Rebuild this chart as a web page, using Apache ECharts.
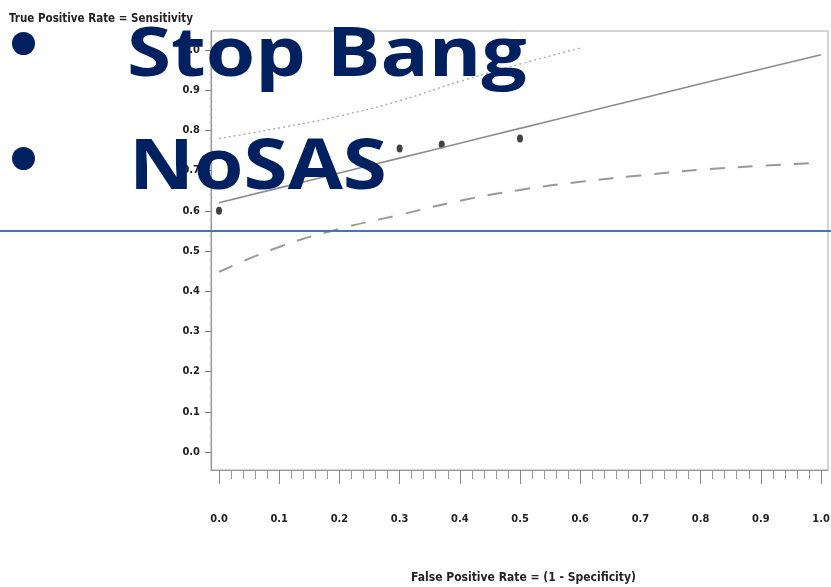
<!DOCTYPE html>
<html>
<head>
<meta charset="utf-8">
<script src="https://cdn.jsdelivr.net/npm/echarts@6/dist/echarts.min.js"></script>
<style>
  html, body { margin: 0; padding: 0; background: #fff; }
  #chart { width: 831px; height: 587px; }
</style>
</head>
<body>
<div id="chart"></div>
<script>
  // data (x = false positive rate, y = true positive rate)
  const curveX = [0, 0.1, 0.2, 0.3, 0.4, 0.5, 0.6, 0.7, 0.8, 0.9, 1.0];
  const srocY = [0.62, 0.657, 0.694, 0.731, 0.768, 0.805, 0.842, 0.879, 0.916, 0.952, 0.988];
  const lowerY = [0.448, 0.51, 0.555, 0.59, 0.625, 0.652, 0.672, 0.688, 0.702, 0.712, 0.72];
  const upperX = [0, 0.1, 0.2, 0.3, 0.4, 0.5, 0.6];
  const upperY = [0.78, 0.806, 0.836, 0.874, 0.922, 0.965, 1.005];
  const studyX = [0.0, 0.30, 0.37, 0.50];
  const studyY = [0.60, 0.755, 0.765, 0.78];
  const majorTicks = [0, 0.1, 0.2, 0.3, 0.4, 0.5, 0.6, 0.7, 0.8, 0.9, 1.0];
  const minorTicks = [0.02, 0.04, 0.06, 0.08, 0.12, 0.14, 0.16, 0.18, 0.22, 0.24, 0.26, 0.28,
    0.32, 0.34, 0.36, 0.38, 0.42, 0.44, 0.46, 0.48, 0.52, 0.54, 0.56, 0.58, 0.62, 0.64, 0.66, 0.68,
    0.72, 0.74, 0.76, 0.78, 0.82, 0.84, 0.86, 0.88, 0.92, 0.94, 0.96, 0.98];
  const bullets = ['Stop Bang', 'NoSAS'];

  const pair = (xs, ys) => xs.map((x, i) => [x, ys[i]]);
  const smallFont = '"DejaVu Sans Condensed", "DejaVu Sans", sans-serif';
  const labelStyle = { fontFamily: smallFont, fontWeight: 'bold', fontSize: 11, color: '#222' };

  let chart = echarts.init(document.getElementById('chart'));
  chart.setOption({
    animation: false,
    backgroundColor: '#fff',
    // the SAS frame sits a little outside the 0..1 range
    grid: {
      left: 211, right: 3, top: 31, bottom: 117, outerBoundsMode: 'none',
      show: true, borderColor: '#aaa', borderWidth: 1
    },
    xAxis: [
      {
        type: 'value', min: -0.0133, max: 1.0116,
        name: 'False Positive Rate = (1 - Specificity)',
        nameLocation: 'middle', nameGap: 102,
        nameTextStyle: { fontFamily: smallFont, fontWeight: 'bold', fontSize: 12, color: '#222', padding: [0, 0, 0, 8] },
        axisLine: { show: true, onZero: false, lineStyle: { color: '#999', width: 1.2 } },
        axisTick: { show: true, length: 14, customValues: majorTicks, lineStyle: { color: '#888' } },
        splitLine: { show: false },
        axisLabel: Object.assign({ margin: 44, customValues: majorTicks, formatter: v => v.toFixed(1) }, labelStyle)
      },
      {
        type: 'value', min: -0.0133, max: 1.0116, position: 'bottom',
        axisLine: { show: false, onZero: false },
        axisTick: { show: true, length: 9, customValues: minorTicks, lineStyle: { color: '#999' } },
        splitLine: { show: false },
        axisLabel: { show: false }
      }
    ],
    yAxis: [
      {
        type: 'value', min: -0.0448, max: 1.0473,
        name: 'True Positive Rate = Sensitivity',
        nameLocation: 'end', nameGap: 6,
        nameTextStyle: { fontFamily: smallFont, fontWeight: 'bold', fontSize: 11.5, color: '#222', align: 'right', padding: [0, 18, 0, 0] },
        axisLine: { show: true, onZero: false, lineStyle: { color: '#999', width: 1.2 } },
        axisTick: { show: true, length: 6, customValues: majorTicks, lineStyle: { color: '#777' } },
        splitLine: { show: false },
        axisLabel: Object.assign({ margin: 11, customValues: majorTicks, formatter: v => v.toFixed(1) }, labelStyle)
      },
      {
        type: 'value', min: -0.0448, max: 1.0473, position: 'left',
        axisLine: { show: false, onZero: false },
        axisTick: { show: true, length: 2, customValues: minorTicks, lineStyle: { color: '#ccc' } },
        splitLine: { show: false },
        axisLabel: { show: false }
      }
    ],
    series: [
      {
        type: 'line', data: pair(upperX, upperY), showSymbol: false, smooth: true,
        lineStyle: { color: '#aaa', width: 1.4, type: [2, 3] }
      },
      {
        type: 'line', data: pair(curveX, srocY), showSymbol: false, smooth: true,
        lineStyle: { color: '#8c8c8c', width: 1.6 }
      },
      {
        type: 'line', data: pair(curveX, lowerY), showSymbol: false, smooth: true,
        lineStyle: { color: '#999', width: 2, type: [15, 13] }
      },
      {
        type: 'scatter', data: pair(studyX, studyY), symbol: 'circle', symbolSize: [6, 8],
        itemStyle: { color: '#111' }
      }
    ],
    graphic: [
      // slide overlay
      { type: 'line', shape: { x1: 0, y1: 231, x2: 831, y2: 231 }, style: { stroke: '#4472C4', lineWidth: 2 }, z: 50 },
      { type: 'circle', shape: { cx: 23.5, cy: 43.5, r: 11.5 }, style: { fill: '#002060' }, z: 50 },
      { type: 'circle', shape: { cx: 23.5, cy: 158.5, r: 11.5 }, style: { fill: '#002060' }, z: 50 },
      {
        type: 'text', x: 127, y: 13, z: 50, originX: 0, originY: 65, scaleY: 0.86,
        style: { text: bullets[0], fill: '#002060', font: 'bold 80px "Open Sans"', verticalAlign: 'top' }
      },
      {
        type: 'text', x: 129, y: 126, z: 50, originX: 0, originY: 66, scaleY: 0.88,
        style: { text: bullets[1], fill: '#002060', font: 'bold 80px "Open Sans"', verticalAlign: 'top' }
      }
    ]
  });
</script>
</body>
</html>
